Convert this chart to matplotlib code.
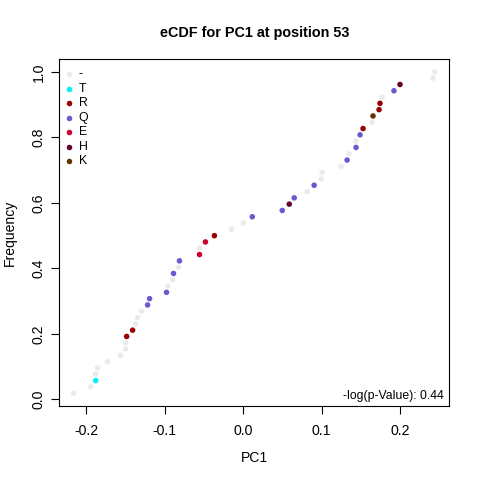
"""eCDF of PC1 at position 53, residues coloured by amino acid"""

import matplotlib
matplotlib.use("Agg")
import matplotlib.pyplot as plt
import numpy as np

plt.rcParams["font.family"] = ["Liberation Sans", "DejaVu Sans"]

# sorted PC1 values and the residue at each point
pc1 = [-0.2157, -0.1940, -0.1877, -0.1877, -0.1852, -0.1725, -0.1560, -0.1496,
       -0.1496, -0.1483, -0.1407, -0.1369, -0.1344, -0.1293, -0.1216, -0.1191,
       -0.0975, -0.0962, -0.0899, -0.0886, -0.0822, -0.0810, -0.0555, -0.0555,
       -0.0479, -0.0365, -0.0149, 0.0004, 0.0118, 0.0500, 0.0589, 0.0652,
       0.0817, 0.0906, 0.0995, 0.1008, 0.1250, 0.1326, 0.1351, 0.1440,
       0.1440, 0.1491, 0.1529, 0.1644, 0.1656, 0.1733, 0.1745, 0.1771,
       0.1923, 0.2000, 0.2419, 0.2444]
residue = ["-", "-", "T", "-", "-", "-", "-", "-",
           "-", "R", "R", "-", "-", "-", "Q", "Q",
           "Q", "-", "-", "Q", "-", "Q", "E", "-",
           "E", "R", "-", "-", "Q", "Q", "H", "Q",
           "-", "Q", "-", "-", "-", "Q", "-", "Q",
           "-", "Q", "R", "-", "K", "R", "R", "-",
           "Q", "H", "-", "-"]

legend_labels = ["-", "T", "R", "Q", "E", "H", "K"]
legend_colors = ["#EBEBEB", "#00F0F5", "#990000", "#6A5ACD", "#CC0033", "#660033", "#663300"]
pvalue_text = "-log(p-Value): 0.44"

color_of = dict(zip(legend_labels, legend_colors))
x = np.array(pc1)
n = len(x)
y = np.arange(1, n + 1) / n
cols = [color_of[r] for r in residue]

fig = plt.figure(figsize=(4.8, 4.8), dpi=100)
ax = fig.add_axes([59.3 / 480, 74 / 480, 390 / 480, 347 / 480])

ax.scatter(x, y, c=cols, s=16, linewidths=0, zorder=3)

# R style limits: data range padded by 4% each side
xr = x.max() - x.min()
yr = y.max() - y.min()
ax.set_xlim(x.min() - 0.04 * xr, x.max() + 0.04 * xr)
ax.set_ylim(y.min() - 0.04 * yr, y.max() + 0.04 * yr)

ax.set_xticks([-0.2, -0.1, 0.0, 0.1, 0.2])
ax.set_xticklabels(["-0.2", "-0.1", "0.0", "0.1", "0.2"])
ax.set_yticks([0.0, 0.2, 0.4, 0.6, 0.8, 1.0])
ax.set_yticklabels(["0.0", "0.2", "0.4", "0.6", "0.8", "1.0"], rotation=90, va="center")
ax.tick_params(direction="out", length=5.8, width=0.8, labelsize=10.1)
ax.tick_params(axis="x", pad=7.2)
ax.tick_params(axis="y", pad=4.0)
for sp in ax.spines.values():
    sp.set_linewidth(0.8)

ax.set_xlabel("PC1", fontsize=10.1, labelpad=9.5)
ax.set_ylabel("Frequency", fontsize=10.1, labelpad=10.5)
ax.set_title("eCDF for PC1 at position 53", fontsize=10.4, fontweight="bold", pad=15.5)

handles = [ax.scatter([], [], c=c, s=16, linewidths=0) for c in legend_colors]
ax.legend(handles, legend_labels, loc="upper left", bbox_to_anchor=(0.0, 0.9865),
          frameon=False, fontsize=8.8, handlelength=0.8, handletextpad=0.4,
          labelspacing=0.2, borderpad=0.4, borderaxespad=0.0)

ax.text(0.987, 0.0106, pvalue_text, transform=ax.transAxes, ha="right", va="bottom",
        fontsize=8.8)

fig.savefig("out.png", dpi=100)
